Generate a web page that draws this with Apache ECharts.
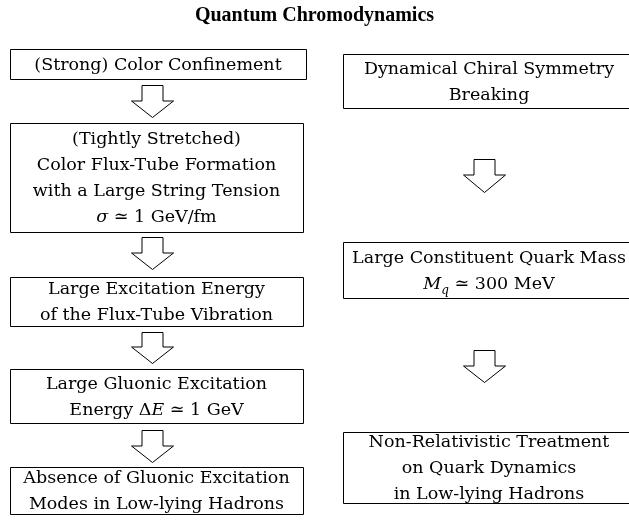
<!DOCTYPE html>
<html>
<head>
<meta charset="utf-8">
<script src="https://cdn.jsdelivr.net/npm/echarts@6/dist/echarts.min.js"></script>
<style>
  html, body { margin: 0; padding: 0; background: #fff; }
  #chart { width: 629px; height: 525px; }
</style>
</head>
<body>
<div id="chart"></div>
<script>
// Flow diagram: each box is a labelled node, arrows connect them down each column
const nodeLabels = [
    '(Strong) Color Confinement',
    '(Tightly Stretched)\nColor Flux-Tube Formation\nwith a Large String Tension\n{i|σ} ≃ 1 GeV/fm',
    'Large Excitation Energy\nof the Flux-Tube Vibration',
    'Large Gluonic Excitation\nEnergy Δ{i|E} ≃ 1 GeV',
    'Absence of Gluonic Excitation\nModes in Low-lying Hadrons',
    'Dynamical Chiral Symmetry\nBreaking',
    'Large Constituent Quark Mass\n{i|M}{sub|q} ≃ 300 MeV',
    'Non-Relativistic Treatment\non Quark Dynamics\nin Low-lying Hadrons'
];
// node extents in diagram units
const nodeLeft   = [10, 10, 10, 10, 10, 343, 343, 343];
const nodeRight  = [306, 303, 303, 303, 303, 635, 635, 635];
const nodeTop    = [49, 123, 277, 369, 467, 54, 242, 432];
const nodeBottom = [79, 232, 326, 423, 514, 108, 298, 503];

// arrows: centre x, top and tip y
const arrowX   = [152, 152, 152, 152, 484, 484];
const arrowTop = [85, 237, 332, 430, 159, 350];
const arrowTip = [117, 269, 363, 462, 192, 382];

const serif = '"DejaVu Serif", "Liberation Serif", serif';

function renderBox(params, api) {
    const p0 = api.coord([api.value(0), api.value(2)]);
    const p1 = api.coord([api.value(1), api.value(3)]);
    return {
        type: 'group',
        children: [
            {
                type: 'rect',
                shape: { x: Math.round(p0[0]) + 0.5, y: Math.round(p0[1]) + 0.5,
                         width: Math.round(p1[0] - p0[0]), height: Math.round(p1[1] - p0[1]) },
                style: { fill: '#fff', stroke: '#000', lineWidth: 1 }
            },
            {
                type: 'text',
                style: {
                    text: nodeLabels[params.dataIndex],
                    x: (p0[0] + p1[0]) / 2,
                    y: (p0[1] + p1[1]) / 2 + 1,
                    align: 'center',
                    verticalAlign: 'middle',
                    fontFamily: serif,
                    fontSize: 17.5,
                    lineHeight: 26,
                    fill: '#000',
                    rich: {
                        i: { fontFamily: serif, fontSize: 17.5, fontStyle: 'italic', lineHeight: 26 },
                        sub: { fontFamily: serif, fontSize: 12, fontStyle: 'italic', lineHeight: 13, verticalAlign: 'bottom' }
                    }
                }
            }
        ]
    };
}

function renderArrow(params, api) {
    const top = api.coord([api.value(0), api.value(1)]);
    const tip = api.coord([api.value(0), api.value(2)]);
    const cx = Math.round(top[0]) + 0.5;
    const y0 = Math.round(top[1]) + 0.5;
    const y2 = Math.round(tip[1]) + 0.5;
    const y1 = Math.round(y0 + (y2 - y0) * 0.48);
    const sw = 10.5, hw = 21;
    return {
        type: 'polygon',
        shape: {
            points: [
                [cx - sw, y0], [cx + sw, y0], [cx + sw, y1], [cx + hw, y1],
                [cx, y2], [cx - hw, y1], [cx - sw, y1]
            ]
        },
        style: { fill: '#fff', stroke: '#000', lineWidth: 1 }
    };
}

const chart = echarts.init(document.getElementById('chart'));
chart.setOption({
    animation: false,
    backgroundColor: '#fff',
    title: {
        text: 'Quantum Chromodynamics',
        left: 'center',
        top: 1,
        textStyle: { fontFamily: '"Liberation Serif", serif', fontWeight: 'bold', fontSize: 20, color: '#000' }
    },
    grid: { left: 0, right: 0, top: 0, bottom: 0 },
    xAxis: { type: 'value', min: 0, max: 629, show: false },
    yAxis: { type: 'value', min: 0, max: 525, inverse: true, show: false },
    series: [
        {
            type: 'custom',
            renderItem: renderArrow,
            data: arrowX.map((x, i) => [x, arrowTop[i], arrowTip[i]])
        },
        {
            type: 'custom',
            renderItem: renderBox,
            data: nodeLabels.map((_, i) => [nodeLeft[i], nodeRight[i], nodeTop[i], nodeBottom[i]])
        }
    ]
});
</script>
</body>
</html>
